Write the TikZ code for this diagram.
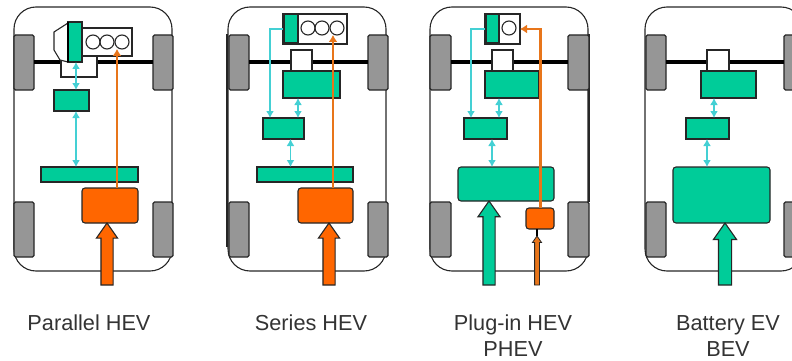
\documentclass[tikz,border=0pt]{standalone}
\usepackage{fontspec}
\setmainfont{Liberation Sans}
\usetikzlibrary{shapes.arrows,arrows.meta}
\definecolor{evgreen}{HTML}{00CC99}
\definecolor{fuelorange}{HTML}{FF6600}
\definecolor{fuelline}{HTML}{E8751A}
\definecolor{tyregray}{HTML}{969696}
\definecolor{linkcyan}{HTML}{44D0D4}
\tikzset
{
    body/.style   = {rectangle, draw=black!85, line width=1.1pt, rounded corners=22pt, minimum width=158pt, minimum height=264pt, anchor=north west, inner sep=0pt, outer sep=0pt},
    wheel/.style  = {rectangle, draw=black!85, fill=tyregray, line width=1.1pt, rounded corners=1.5pt, minimum width=20pt, minimum height=55pt, anchor=north west, inner sep=0pt, outer sep=0pt},
    unit/.style   = {rectangle, draw=black!85, line width=1.1pt, anchor=north west, inner sep=0pt, outer sep=0pt},
    green/.style  = {unit, fill=evgreen},
    tank/.style   = {unit, rounded corners=3pt},
    cyl/.style    = {circle, draw=black!85, line width=1.1pt, minimum size=14pt, inner sep=0pt, outer sep=0pt},
    big/.style    = {single arrow, draw=black!85, line width=1.1pt, shape border rotate=90, anchor=tip, single arrow tip angle=70, inner ysep=0pt, inner xsep=5.5pt, outer sep=0pt},
    axle/.style   = {line width=4pt, black},
    link/.style   = {line width=1.6pt, linkcyan, {Latex[length=7pt,width=8pt]}-{Latex[length=7pt,width=8pt]}},
    linkone/.style= {line width=1.6pt, linkcyan, -{Latex[length=7pt,width=8pt]}},
    fuel/.style   = {line width=2.4pt, fuelline, -{Latex[length=7pt,width=9pt]}},
    label/.style  = {text=black!80, font=\fontsize{21.7}{26}\selectfont, align=center, anchor=north, inner sep=0pt}
}
\begin{document}
\begin{tikzpicture}[x=1pt, y=-1pt]
	\useasboundingbox (0,0) rectangle (792,361);

	% Parallel HEV
	\node (body1) [body] at (14,7) {};
	\node (wa1) [wheel] at (14,35) {};
	\node (wb1) [wheel] at (153,35) {};
	\node (wc1) [wheel] at (14,202) {};
	\node (wd1) [wheel] at (153,202) {};
	\draw [axle] (wa1.east) -- (wb1.west);
	\node (gear1) [unit, fill=white, minimum width=36pt, minimum height=21pt] at (61,56) {};
	\node (eng1) [unit, fill=white, minimum width=50pt, minimum height=28pt] at (82,28) {};
	\node (cyla1) [cyl] at (93,42) {};
	\node (cylb1) [cyl] at (107,42) {};
	\node (cylc1) [cyl] at (122,42) {};
	\draw [line width=1.1pt, draw=black!85, fill=white] (68,23) -- (54,32) -- (54,50) -- (60,60) -- (68,62) -- cycle;
	\node (mot1) [green, minimum width=14pt, minimum height=40pt] at (68,22) {};
	\draw [line width=2pt] (mot1.north west) -- (mot1.south west);
	\node (inv1) [green, minimum width=35pt, minimum height=21pt] at (54,90) {};
	\node (bat1) [green, minimum width=97pt, minimum height=15pt] at (41,167) {};
	\node (tank1) [tank, fill=fuelorange, minimum width=56pt, minimum height=35pt] at (82,188) {};
	\node (fill1) [big, fill=fuelorange, minimum height=62pt, minimum width=20pt, single arrow head extend=4.5pt] at (107,223) {};
	\coordinate (x1) at (76,0);
	\coordinate (f1) at (117,0);
	\draw [link] (x1 |- mot1.south) -- (x1 |- inv1.north);
	\draw [link] (x1 |- inv1.south) -- (x1 |- bat1.north);
	\draw [fuel] (f1 |- tank1.north) -- (f1 |- cyla1.south);
	\node (lab1) [label] at (89,315) {Parallel HEV};

	% Series HEV
	\node (body2) [body] at (228,7) {};
	\draw [line width=2pt, black!85] (227,34) -- (227,247);
	\node (wa2) [wheel] at (229,35) {};
	\node (wb2) [wheel] at (368,35) {};
	\node (wc2) [wheel] at (229,202) {};
	\node (wd2) [wheel] at (368,202) {};
	\draw [axle] (wa2.east) -- (wb2.west);
	\node (eng2) [unit, fill=white, line width=1.5pt, minimum width=64pt, minimum height=30pt] at (283,14) {};
	\node (cyla2) [cyl] at (308,28) {};
	\node (cylb2) [cyl] at (322,28) {};
	\node (cylc2) [cyl] at (337,28) {};
	\node (mot2) [green, minimum width=14pt, minimum height=29pt] at (284,14) {};
	\node (gear2) [unit, fill=white, minimum width=21pt, minimum height=21pt] at (291,50) {};
	\node (drv2) [green, line width=1.5pt, minimum width=57pt, minimum height=27pt] at (283,71) {};
	\node (inv2) [green, minimum width=41pt, minimum height=21pt] at (263,118) {};
	\node (bat2) [green, minimum width=96pt, minimum height=15pt] at (257,167) {};
	\node (tank2) [tank, fill=fuelorange, minimum width=55pt, minimum height=35pt] at (298,188) {};
	\node (fill2) [big, fill=fuelorange, minimum height=62pt, minimum width=20pt, single arrow head extend=4.5pt] at (329,223) {};
	\coordinate (xa2) at (298,0);
	\coordinate (xb2) at (290.5,0);
	\coordinate (xc2) at (270,0);
	\coordinate (f2) at (333,0);
	\draw [link] (xa2 |- drv2.south) -- (xa2 |- inv2.north);
	\draw [link] (xb2 |- inv2.south) -- (xb2 |- bat2.north);
	\draw [linkone] (eng2.west) -| (xc2 |- inv2.north);
	\draw [fuel] (f2 |- tank2.north) -- (f2 |- cylc2.south);
	\node (lab2) [label] at (311,315) {Series HEV};

	% Plug-in HEV
	\node (body3) [body] at (430,7) {};
	\draw [line width=2pt, black!85] (589,34) -- (589,202);
	\node (wa3) [wheel, minimum width=21pt] at (430,35) {};
	\node (wb3) [wheel, minimum width=21pt] at (568,35) {};
	\node (wc3) [wheel, minimum width=21pt] at (430,202) {};
	\node (wd3) [wheel, minimum width=21pt] at (568,202) {};
	\draw [axle] (wa3.east) -- (wb3.west);
	\node (eng3) [unit, fill=white, line width=1.5pt, minimum width=35pt, minimum height=30pt] at (485,14) {};
	\node (cyla3) [cyl] at (509,28) {};
	\node (mot3) [green, minimum width=13pt, minimum height=29pt] at (486,14) {};
	\node (gear3) [unit, fill=white, minimum width=21pt, minimum height=21pt] at (492,50) {};
	\node (drv3) [green, minimum width=54pt, minimum height=27pt] at (485,71) {};
	\node (inv3) [green, line width=1.5pt, minimum width=43pt, minimum height=21pt] at (464,118) {};
	\node (bat3) [green, tank, minimum width=96pt, minimum height=34pt] at (458,167) {};
	\node (tank3) [tank, fill=fuelorange, minimum width=28pt, minimum height=21pt] at (526,208) {};
	\node (fill3) [big, fill=evgreen, minimum height=84pt, minimum width=21pt, single arrow head extend=5pt] at (489,201) {};
	\node (plug3) [big, fill=fuelline, line width=.8pt, inner xsep=2pt, minimum height=49pt, minimum width=9pt, single arrow head extend=2.2pt] at (537,236) {};
	\coordinate (xa3) at (499,0);
	\coordinate (xb3) at (492,0);
	\coordinate (xc3) at (471,0);
	\coordinate (f3) at (540.5,0);
	\draw [link] (xa3 |- drv3.south) -- (xa3 |- inv3.north);
	\draw [link] (xb3 |- inv3.south) -- (xb3 |- bat3.north);
	\draw [linkone] (eng3.west) -| (xc3 |- inv3.north);
	\draw [fuel] (f3 |- tank3.north) |- (eng3.east);
	\draw [line width=1.2pt] (tank3.south -| plug3.tip) -- (plug3.tip);
	\node (lab3a) [label] at (513,315) {Plug-in HEV\\PHEV};

	% Battery EV
	\node (body4) [body] at (645,7) {};
	\node (wa4) [wheel] at (646,35) {};
	\node (wb4) [wheel] at (784,35) {};
	\node (wc4) [wheel] at (646,202) {};
	\node (wd4) [wheel] at (784,202) {};
	\draw [axle] (wa4.east) -- (wb4.west);
	\node (gear4) [unit, fill=white, minimum width=22pt, minimum height=21pt] at (707,50) {};
	\node (drv4) [green, minimum width=55pt, minimum height=27pt] at (701,71) {};
	\node (inv4) [green, minimum width=43pt, minimum height=21pt] at (686,118) {};
	\node (bat4) [green, tank, minimum width=97pt, minimum height=56pt] at (673,167) {};
	\node (fill4) [big, fill=evgreen, inner xsep=6pt, minimum height=62pt, minimum width=22pt, single arrow head extend=5pt] at (725,223) {};
	\coordinate (xa4) at (714,0);
	\coordinate (xb4) at (707,0);
	\draw [link] (xa4 |- drv4.south) -- (xa4 |- inv4.north);
	\draw [link] (xb4 |- inv4.south) -- (xb4 |- bat4.north);
	\node (lab4) [label] at (728,315) {Battery EV\\BEV};
\end{tikzpicture}
\end{document}
